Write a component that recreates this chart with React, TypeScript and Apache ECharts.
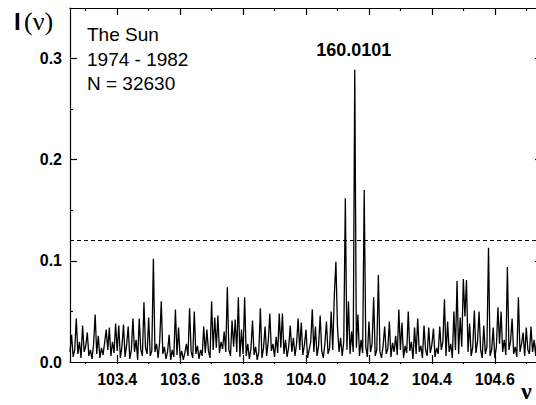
import React, { useEffect, useRef } from "react";
import * as echarts from "echarts";

// Periodogram sampled on a regular frequency grid
const NU_START = 103.25;
const NU_STEP = 0.005;
const POWER = [
  0.010, 0.027, 0.005, 0.012, 0.043, 0.008, 0.020, 0.004, 0.036, 0.010,
  0.016, 0.029, 0.006, 0.012, 0.003, 0.018, 0.047, 0.008, 0.026, 0.004,
  0.014, 0.007, 0.019, 0.032, 0.012, 0.034, 0.006, 0.020, 0.009, 0.038,
  0.011, 0.036, 0.004, 0.015, 0.037, 0.005, 0.017, 0.035, 0.003, 0.012,
  0.043, 0.010, 0.022, 0.002, 0.043, 0.012, 0.006, 0.059, 0.014, 0.008,
  0.044, 0.006, 0.011, 0.102, 0.010, 0.018, 0.004, 0.020, 0.060, 0.008,
  0.015, 0.003, 0.010, 0.027, 0.002, 0.012, 0.005, 0.052, 0.007, 0.034,
  0.004, 0.011, 0.002, 0.009, 0.018, 0.006, 0.053, 0.010, 0.004, 0.050,
  0.008, 0.016, 0.003, 0.012, 0.006, 0.035, 0.009, 0.032, 0.011, 0.004,
  0.060, 0.012, 0.044, 0.014, 0.046, 0.009, 0.020, 0.013, 0.030, 0.010,
  0.074, 0.012, 0.006, 0.041, 0.015, 0.042, 0.010, 0.064, 0.005, 0.032,
  0.008, 0.064, 0.006, 0.018, 0.003, 0.013, 0.041, 0.007, 0.015, 0.002,
  0.010, 0.053, 0.004, 0.014, 0.035, 0.006, 0.020, 0.048, 0.011, 0.018,
  0.005, 0.025, 0.009, 0.048, 0.014, 0.048, 0.008, 0.022, 0.005, 0.015,
  0.036, 0.010, 0.024, 0.006, 0.018, 0.043, 0.012, 0.039, 0.007, 0.017,
  0.032, 0.004, 0.012, 0.020, 0.052, 0.010, 0.035, 0.006, 0.016, 0.046,
  0.011, 0.004, 0.018, 0.040, 0.008, 0.014, 0.050, 0.012, 0.066, 0.099,
  0.035, 0.010, 0.024, 0.006, 0.020, 0.162, 0.012, 0.060, 0.008, 0.030,
  0.010, 0.289, 0.014, 0.047, 0.006, 0.022, 0.009, 0.170, 0.015, 0.005,
  0.040, 0.010, 0.018, 0.064, 0.006, 0.012, 0.086, 0.010, 0.004, 0.016,
  0.035, 0.008, 0.013, 0.040, 0.005, 0.019, 0.010, 0.026, 0.007, 0.052,
  0.012, 0.039, 0.004, 0.016, 0.009, 0.050, 0.011, 0.020, 0.003, 0.034,
  0.008, 0.043, 0.010, 0.016, 0.004, 0.036, 0.012, 0.006, 0.034, 0.009,
  0.017, 0.033, 0.005, 0.014, 0.008, 0.035, 0.012, 0.020, 0.062, 0.006,
  0.040, 0.010, 0.018, 0.004, 0.050, 0.012, 0.080, 0.008, 0.044, 0.015,
  0.082, 0.045, 0.081, 0.010, 0.038, 0.006, 0.015, 0.051, 0.009, 0.020,
  0.050, 0.012, 0.004, 0.036, 0.008, 0.015, 0.113, 0.006, 0.012, 0.034,
  0.004, 0.015, 0.054, 0.018, 0.050, 0.010, 0.022, 0.007, 0.094, 0.012,
  0.020, 0.043, 0.008, 0.015, 0.005, 0.064, 0.010, 0.018, 0.029, 0.006,
  0.034, 0.012, 0.008, 0.035, 0.010, 0.022, 0.006, 0.030, 0.010, 0.018,
  0.008,
];

const X_MIN = 103.25;
const X_MAX = 104.75;
const Y_MIN = 0;
const Y_MAX = 0.35;
const X_LABELS = [103.4, 103.6, 103.8, 104.0, 104.2, 104.4, 104.6];
const X_MINOR = [103.3, 103.5, 103.7, 103.9, 104.1, 104.3, 104.5, 104.7];
const X_ALL = [103.3, 103.4, 103.5, 103.6, 103.7, 103.8, 103.9, 104.0, 104.1, 104.2, 104.3, 104.4, 104.5, 104.6, 104.7];
const Y_LABELS = [0, 0.1, 0.2, 0.3];
const Y_MAJOR_TICKS = [0.1, 0.2, 0.3];
const Y_MINOR = [0.05, 0.15, 0.25];
const THRESHOLD = 0.12;
const PEAK_LABEL = "160.0101";
const INFO_LINES = ["The Sun", "1974 - 1982", "N = 32630"];

const SANS = "'Liberation Sans', Arial, Helvetica, sans-serif";
const SERIF = "'Liberation Serif', 'Times New Roman', serif";

export default function App() {
  const ref = useRef<HTMLDivElement>(null);

  useEffect(() => {
    if (!ref.current) return;
    const chart = echarts.init(ref.current, undefined, { renderer: "svg" });
    const data = POWER.map((p, i) => [NU_START + i * NU_STEP, p]);

    const baseX = {
      type: "value",
      min: X_MIN,
      max: X_MAX,
      splitLine: { show: false },
      axisLabel: { show: false },
      axisTick: { show: false },
      axisLine: { show: false, onZero: false },
    };
    const baseY = {
      type: "value",
      min: Y_MIN,
      max: Y_MAX,
      interval: 0.05,
      splitLine: { show: false },
      axisLabel: { show: false },
      axisTick: { show: false },
      axisLine: { show: false, onZero: false },
    };
    const lineStyle = { color: "#000", width: 1.2 };

    chart.setOption({
      animation: false,
      backgroundColor: "#fff",
      grid: { left: 70, right: 4, top: 8, bottom: 43, containLabel: false },
      xAxis: [
        {
          ...baseX,
          position: "bottom",
          axisLine: { show: true, onZero: false, lineStyle },
          axisTick: { show: true, inside: false, length: 2, customValues: X_ALL, lineStyle },
          axisLabel: {
            show: true,
            customValues: X_LABELS,
            formatter: (v: number) => v.toFixed(1),
            color: "#000",
            fontFamily: SANS,
            fontWeight: "bold",
            fontSize: 16,
            margin: 9,
          },
        },
        {
          ...baseX,
          position: "bottom",
          axisTick: { show: true, inside: true, length: 7, customValues: X_LABELS, lineStyle },
        },
        {
          ...baseX,
          position: "top",
          axisLine: { show: true, onZero: false, lineStyle },
          axisTick: { show: true, inside: true, length: 7, customValues: X_LABELS, lineStyle },
        },
        {
          ...baseX,
          position: "top",
          axisTick: { show: true, inside: true, length: 3, customValues: X_MINOR, lineStyle },
        },
      ],
      yAxis: [
        {
          ...baseY,
          position: "left",
          axisLine: { show: true, onZero: false, lineStyle },
          axisTick: { show: true, inside: true, length: 7, customValues: Y_MAJOR_TICKS, lineStyle },
          axisLabel: {
            show: true,
            customValues: Y_LABELS,
            formatter: (v: number) => v.toFixed(1),
            color: "#000",
            fontFamily: SANS,
            fontWeight: "bold",
            fontSize: 16,
            margin: 8,
          },
        },
        {
          ...baseY,
          position: "left",
          axisTick: { show: true, inside: true, length: 3, customValues: Y_MINOR, lineStyle },
        },
        {
          ...baseY,
          position: "right",
          axisLine: { show: true, onZero: false, lineStyle },
          axisTick: { show: true, inside: true, length: 7, customValues: Y_MAJOR_TICKS, lineStyle },
        },
        {
          ...baseY,
          position: "right",
          axisTick: { show: true, inside: true, length: 3, customValues: Y_MINOR, lineStyle },
        },
      ],
      series: [
        {
          type: "line",
          xAxisIndex: 0,
          yAxisIndex: 0,
          data,
          showSymbol: false,
          symbol: "none",
          lineStyle: { color: "#000", width: 1.3 },
          clip: true,
          markLine: {
            silent: true,
            symbol: "none",
            label: { show: false },
            lineStyle: { color: "#000", width: 1, type: [4, 3] },
            data: [{ yAxis: THRESHOLD }],
          },
          markPoint: {
            symbol: "circle",
            symbolSize: 1,
            itemStyle: { color: "rgba(0,0,0,0)" },
            label: {
              show: true,
              position: "inside",
              offset: [-1, -20],
              formatter: PEAK_LABEL,
              color: "#000",
              fontFamily: SANS,
              fontWeight: "bold",
              fontSize: 18,
            },
            data: [{ type: "max" }],
          },
        },
      ],
      graphic: [
        {
          type: "text",
          x: 14,
          y: 21,
          style: {
            text: "{a|I} {b|(ν)}",
            verticalAlign: "middle",
            rich: {
              a: { fontFamily: SANS, fontWeight: "bold", fontSize: 24, fill: "#000" },
              b: { fontFamily: SERIF, fontSize: 26, fill: "#000" },
            },
          },
        },
        ...INFO_LINES.map((t, i) => ({
          type: "text",
          x: 87,
          y: [34.5, 59.5, 83][i],
          style: {
            text: t,
            fontFamily: SANS,
            fontSize: 19,
            fill: "#000",
            verticalAlign: "middle",
          },
        })),
        {
          type: "text",
          x: 521,
          y: 391,
          style: {
            text: "ν",
            fontFamily: SERIF,
            fontWeight: "bold",
            fontSize: 24,
            fill: "#000",
            verticalAlign: "middle",
          },
        },
      ],
    });

    return () => chart.dispose();
  }, []);

  return (
    <div
      ref={ref}
      style={{ position: "fixed", left: 0, top: 0, width: 546, height: 405, background: "#fff" }}
    />
  );
}
